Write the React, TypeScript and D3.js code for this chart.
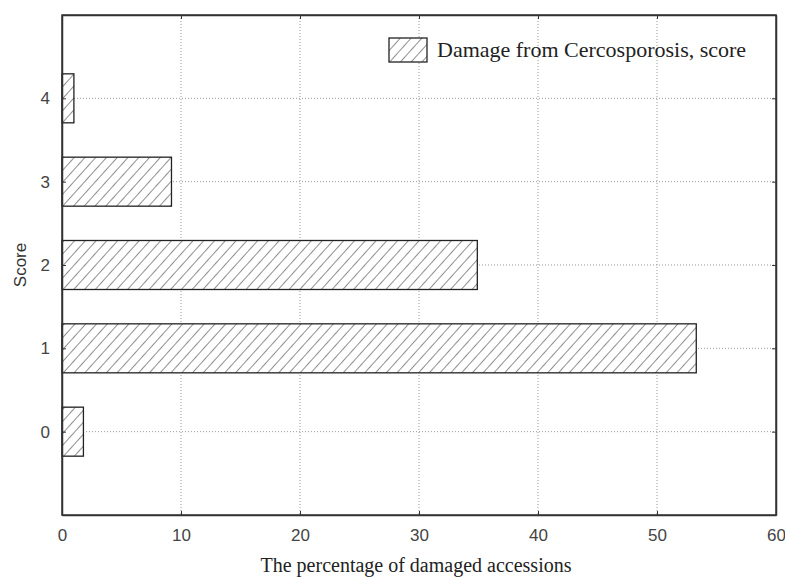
import { useRef, useEffect } from 'react';
import * as d3 from 'd3';

// chart data
const scores = [0, 1, 2, 3, 4];
const percents = [1.8, 53.3, 34.9, 9.2, 1.0];
const xTicks = [0, 10, 20, 30, 40, 50, 60];
const legendLabel = 'Damage from Cercosporosis, score';

export default function App() {
  const svgRef = useRef<SVGSVGElement | null>(null);

  useEffect(() => {
    const width = 785;
    const height = 577;
    const margin = { top: 15, right: 9, bottom: 62, left: 62 };
    const data = scores.map((s, i) => ({ score: s, value: percents[i] }));

    const svg = d3.select(svgRef.current)
      .attr('width', width)
      .attr('height', height);
    svg.selectAll('*').remove();

    const x = d3.scaleLinear()
      .domain([0, 60])
      .range([margin.left, width - margin.right]);
    const y = d3.scaleLinear()
      .domain([-1, 5])
      .range([height - margin.bottom, margin.top]);
    const barH = 49;

    // hatch pattern
    const defs = svg.append('defs');
    const pat = defs.append('pattern')
      .attr('id', 'hatch')
      .attr('patternUnits', 'userSpaceOnUse')
      .attr('width', 8)
      .attr('height', 8)
      .attr('patternTransform', 'rotate(42)');
    pat.append('rect').attr('width', 8).attr('height', 8).attr('fill', '#fff');
    pat.append('line')
      .attr('x1', 0).attr('y1', 0).attr('x2', 0).attr('y2', 8)
      .attr('stroke', '#222').attr('stroke-width', 1);

    // grid
    svg.append('g')
      .selectAll('line')
      .data(xTicks.slice(1, -1))
      .enter().append('line')
      .attr('x1', d => x(d)).attr('x2', d => x(d))
      .attr('y1', margin.top).attr('y2', height - margin.bottom)
      .attr('stroke', '#999').attr('stroke-dasharray', '1,2');
    svg.append('g')
      .selectAll('line')
      .data(scores)
      .enter().append('line')
      .attr('x1', margin.left).attr('x2', width - margin.right)
      .attr('y1', d => y(d)).attr('y2', d => y(d))
      .attr('stroke', '#999').attr('stroke-dasharray', '1,2');

    // bars
    svg.append('g')
      .selectAll('rect')
      .data(data)
      .enter().append('rect')
      .attr('x', x(0))
      .attr('y', d => y(d.score) - barH / 2)
      .attr('width', d => x(d.value) - x(0))
      .attr('height', barH)
      .attr('fill', 'url(#hatch)')
      .attr('stroke', '#222')
      .attr('stroke-width', 1.3);

    // axes, ticks inward
    const bottom = svg.append('g')
      .attr('transform', `translate(0, ${height - margin.bottom})`)
      .call(d3.axisBottom(x).tickValues(xTicks).tickSizeInner(-4).tickSizeOuter(0).tickPadding(14));
    const top = svg.append('g')
      .attr('transform', `translate(0, ${margin.top})`)
      .call(d3.axisTop(x).tickValues(xTicks).tickSizeInner(-4).tickSizeOuter(0).tickFormat(() => ''));
    const left = svg.append('g')
      .attr('transform', `translate(${margin.left}, 0)`)
      .call(d3.axisLeft(y).tickValues(scores).tickFormat(d3.format('d')).tickSizeInner(-4).tickSizeOuter(0).tickPadding(12));
    const right = svg.append('g')
      .attr('transform', `translate(${width - margin.right}, 0)`)
      .call(d3.axisRight(y).tickValues(scores).tickSizeInner(-4).tickSizeOuter(0).tickFormat(() => ''));

    [bottom, top, left, right].forEach(g => {
      g.select('.domain').attr('stroke', '#333').attr('stroke-width', 1.5);
      g.selectAll('.tick line').attr('stroke', '#333');
      g.selectAll('.tick text')
        .attr('fill', '#444')
        .attr('font-family', 'Liberation Sans, Arial, sans-serif')
        .attr('font-size', 17);
    });
    // close the frame corners
    svg.append('rect')
      .attr('x', margin.left).attr('y', margin.top)
      .attr('width', width - margin.left - margin.right)
      .attr('height', height - margin.top - margin.bottom)
      .attr('fill', 'none').attr('stroke', '#333').attr('stroke-width', 1.5);

    // axis titles
    svg.append('text')
      .attr('x', 416)
      .attr('y', 572)
      .attr('text-anchor', 'middle')
      .attr('font-family', 'Liberation Serif, Times New Roman, serif')
      .attr('font-size', 20)
      .attr('fill', '#222')
      .text('The percentage of damaged accessions');
    svg.append('text')
      .attr('transform', `translate(26, ${(margin.top + height - margin.bottom) / 2}) rotate(-90)`)
      .attr('text-anchor', 'middle')
      .attr('font-family', 'Liberation Sans, Arial, sans-serif')
      .attr('font-size', 17)
      .attr('fill', '#333')
      .text('Score');

    // legend
    const lg = svg.append('g').attr('transform', 'translate(389, 38)');
    lg.append('rect')
      .attr('width', 38).attr('height', 24)
      .attr('fill', 'url(#hatch)')
      .attr('stroke', '#222').attr('stroke-width', 1.3);
    lg.append('text')
      .attr('x', 48).attr('y', 19)
      .attr('font-family', 'Liberation Serif, Times New Roman, serif')
      .attr('font-size', 22)
      .attr('fill', '#222')
      .text(legendLabel);
  }, []);

  return <svg ref={svgRef} style={{ position: 'absolute', left: 0, top: 0 }} />;
}
